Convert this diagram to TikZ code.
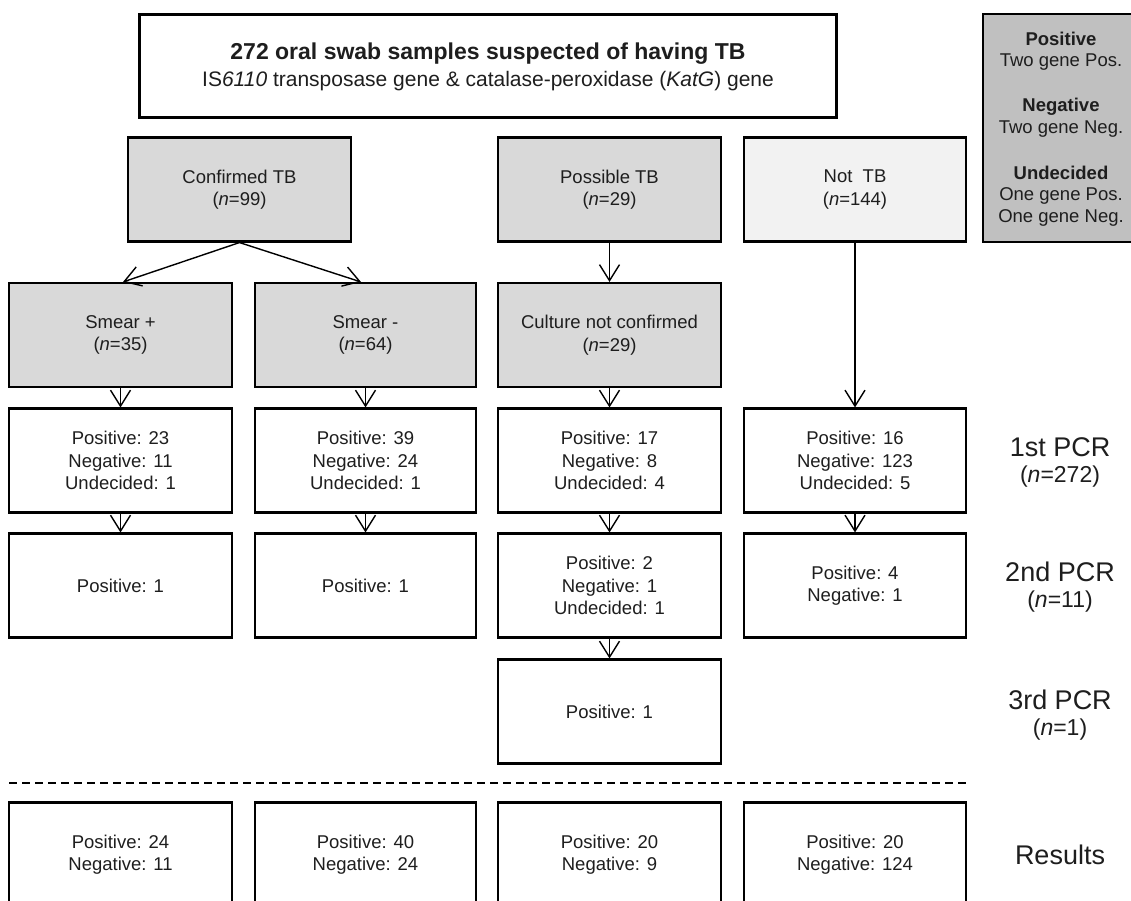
\documentclass[tikz,border=0pt]{standalone}
\usepackage{fontspec}
\setmainfont{Liberation Sans}
\usetikzlibrary{arrows.meta}
\definecolor{boxgray}{HTML}{D9D9D9}
\definecolor{lightgray2}{HTML}{F2F2F2}
\definecolor{leggray}{HTML}{C0C0C0}
\definecolor{txt}{HTML}{1E1E1E}
\begin{document}
\begin{tikzpicture}[x=1pt,y=-1pt,
  cell/.style={draw=black, line width=2.1pt, minimum width=222pt, minimum height=104pt,
    inner sep=0pt, align=center, text=txt, font=\fontsize{18.5}{22.5}\selectfont},
  grayc/.style={cell, fill=boxgray},
  whitec/.style={cell, fill=white},
  arr/.style={line width=1.4pt, -{Straight Barb[length=16pt,width=20pt,line width=1.4pt]}},
  side/.style={align=center, text=txt, inner sep=0pt},
  big/.style={font=\fontsize{27}{30}\selectfont},
  small/.style={font=\fontsize{23}{26}\selectfont},
  legtxt/.style={side, font=\fontsize{18.5}{22}\selectfont}
]
\useasboundingbox (0,0) rectangle (1131,900);
\fill[white] (0,0) rectangle (1131,900);

% top box
\node[draw=black, line width=2.8pt, minimum width=697pt, minimum height=103pt, inner sep=0pt, fill=white] (top) at (488,66) {};
\node[side, font=\fontsize{23}{27}\selectfont\bfseries] (title) at (488,54) {272 oral swab samples suspected of having TB};
\node[side, font=\fontsize{21}{25}\selectfont] (subtitle) at (488,81) {IS\textit{6110} transposase gene \& catalase-peroxidase (\textit{KatG}) gene};

% legend
\node[draw=black, line width=2.1pt, fill=leggray, minimum width=157pt, minimum height=228pt, inner sep=0pt] (leg) at (1061.5,128) {};
\node[legtxt, font=\fontsize{18.5}{22}\selectfont\bfseries] (lp) at (1061,39) {Positive};
\node[legtxt] (lpt) at (1061,62) {Two gene Pos.};
\node[legtxt, font=\fontsize{18.5}{22}\selectfont\bfseries] (ln) at (1061,107) {Negative};
\node[legtxt] (lnt) at (1061,129) {Two gene Neg.};
\node[legtxt, font=\fontsize{18.5}{22}\selectfont\bfseries] (lu) at (1061,173) {Undecided};
\node[legtxt] (lut) at (1061,195.5) {One gene Pos.};
\node[legtxt] (lut2) at (1061,218) {One gene Neg.};

% row 2
\node[grayc, minimum width=223pt] (conf) at (239.5,189.5) {Confirmed TB\\(\textit{n}=99)};
\node[grayc, minimum width=223pt] (poss) at (609.5,189.5) {Possible TB\\(\textit{n}=29)};
\node[cell, fill=lightgray2] (nottb) at (855,189.5) {Not\ \ TB\\(\textit{n}=144)};

% row 3
\node[grayc, minimum width=223pt] (smp) at (120.5,335) {Smear +\\(\textit{n}=35)};
\node[grayc, minimum width=221pt] (smn) at (365.5,335) {Smear -\\(\textit{n}=64)};
\node[grayc, minimum width=223pt] (cult) at (609.5,335) {Culture not confirmed\\(\textit{n}=29)};

% row 4 (1st PCR)
\node[whitec, minimum width=223pt] (a1) at (120.5,460.5) {Positive: 23\\Negative: 11\\Undecided: 1};
\node[whitec, minimum width=221pt] (a2) at (365.5,460.5) {Positive: 39\\Negative: 24\\Undecided: 1};
\node[whitec, minimum width=223pt] (a3) at (609.5,460.5) {Positive: 17\\Negative: 8\\Undecided: 4};
\node[whitec] (a4) at (855,460.5) {Positive: 16\\Negative: 123\\Undecided: 5};

% row 5 (2nd PCR)
\node[whitec, minimum width=223pt] (b1) at (120.5,585.5) {Positive: 1};
\node[whitec, minimum width=221pt] (b2) at (365.5,585.5) {Positive: 1};
\node[whitec, minimum width=223pt] (b3) at (609.5,585.5) {Positive: 2\\Negative: 1\\Undecided: 1};
\node[whitec] (b4) at (855,585.5) {Positive: 4\\Negative: 1};

% row 6 (3rd PCR)
\node[whitec, minimum width=223pt] (c3) at (609.5,711.5) {Positive: 1};

% dashed separator
\coordinate (dl) at (9,783);
\coordinate (dr) at (966,783);
\draw[line width=1.8pt, dash pattern=on 8pt off 5pt] (dl) -- (dr);

% results
\node[whitec, minimum width=223pt] (r1) at (120.5,854.5) {Positive: 24\\Negative: 11};
\node[whitec, minimum width=221pt] (r2) at (365.5,854.5) {Positive: 40\\Negative: 24};
\node[whitec, minimum width=223pt] (r3) at (609.5,854.5) {Positive: 20\\Negative: 9};
\node[whitec] (r4) at (855,854.5) {Positive: 20\\Negative: 124};

% arrows
\draw[arr] (conf.south) -- ([xshift=2.5pt]smp.north);
\draw[arr] (conf.south) -- ([xshift=-4.5pt]smn.north);
\draw[arr] (poss.south) -- (cult.north);
\draw[arr] (nottb.south) -- (a4.north);
\draw[arr] (smp.south) -- (a1.north);
\draw[arr] (smn.south) -- (a2.north);
\draw[arr] (cult.south) -- (a3.north);
\draw[arr] (a1.south) -- (b1.north);
\draw[arr] (a2.south) -- (b2.north);
\draw[arr] (a3.south) -- (b3.north);
\draw[arr] (a4.south) -- (b4.north);
\draw[arr] (b3.south) -- (c3.north);

% side labels
\node[side, big] (l1) at (1060,447) {1st PCR};
\node[side, small] (l1n) at (1060,477) {(\textit{n}=272)};
\node[side, big] (l2) at (1060,572) {2nd PCR};
\node[side, small] (l2n) at (1060,602) {(\textit{n}=11)};
\node[side, big] (l3) at (1060,700) {3rd PCR};
\node[side, small] (l3n) at (1060,730) {(\textit{n}=1)};
\node[side, big] (l4) at (1060,855) {Results};
\end{tikzpicture}
\end{document}
